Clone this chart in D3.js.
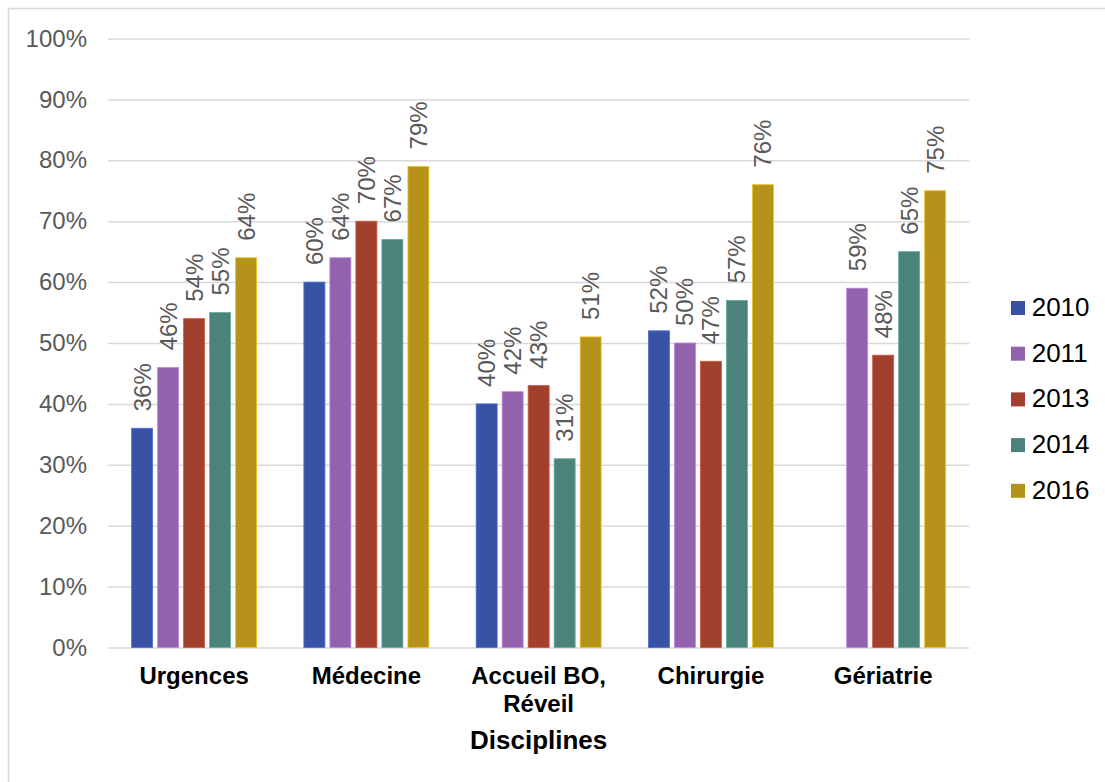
<!DOCTYPE html>
<html>
<head>
<meta charset="utf-8">
<script src="https://cdn.jsdelivr.net/npm/d3@7"></script>
<style>
  html, body { margin: 0; padding: 0; background: #ffffff; }
  svg { display: block; }
  text { font-family: "Liberation Sans", Arial, sans-serif; }
</style>
</head>
<body>
<svg id="chart" width="1105" height="782"></svg>
<script>
// ---- data ----
const categories = ["Urgences", "Médecine", "Accueil BO,\nRéveil", "Chirurgie", "Gériatrie"];
const years = ["2010", "2011", "2013", "2014", "2016"];
const v2010 = [0.36, 0.60, 0.40, 0.52, null];
const v2011 = [0.46, 0.64, 0.42, 0.50, 0.59];
const v2013 = [0.54, 0.70, 0.43, 0.47, 0.48];
const v2014 = [0.55, 0.67, 0.31, 0.57, 0.65];
const v2016 = [0.64, 0.79, 0.51, 0.76, 0.75];
const yTicks = [0, 0.1, 0.2, 0.3, 0.4, 0.5, 0.6, 0.7, 0.8, 0.9, 1.0];
const colors = ["#3953a4", "#9263ac", "#a0402d", "#4b8279", "#b5931a"];
const xTitle = "Disciplines";

const seriesValues = [v2010, v2011, v2013, v2014, v2016];
const series = years.map((y, i) => ({ year: y, color: colors[i], values: seriesValues[i] }));

// ---- layout ----
const svg = d3.select("#chart");
const plot = { left: 108, right: 969.3, top: 38.5, bottom: 647.5 };

// outer chart border (top and left edges visible)
svg.append("line").attr("x1", 8.5).attr("y1", 8.5).attr("x2", 1105).attr("y2", 8.5)
  .attr("stroke", "#d9d9d9").attr("stroke-width", 1.5);
svg.append("line").attr("x1", 8.5).attr("y1", 8.5).attr("x2", 8.5).attr("y2", 782)
  .attr("stroke", "#d9d9d9").attr("stroke-width", 1.5);

const x0 = d3.scaleBand().domain(categories).range([plot.left, plot.right]).padding(0);
const innerW = 125;
const x1 = d3.scaleBand().domain(years).range([0, innerW]).paddingInner(5 / 26).paddingOuter(0);
const y = d3.scaleLinear().domain([0, 1]).range([plot.bottom, plot.top]);

// y axis + gridlines
const yAxis = d3.axisLeft(y)
  .tickValues(yTicks)
  .tickFormat(d3.format(".0%"))
  .tickSize(-(plot.right - plot.left))
  .tickPadding(21);
const gy = svg.append("g").attr("transform", `translate(${plot.left},0)`).call(yAxis);
gy.select(".domain").remove();
gy.selectAll(".tick line").attr("stroke", "#d9d9d9").attr("stroke-width", 1.5);
gy.selectAll(".tick text")
  .attr("fill", "#595959")
  .attr("font-size", 24)
  .attr("font-family", "'Liberation Sans', Arial, sans-serif");

// bars
const groups = svg.append("g").selectAll("g.cat")
  .data(categories)
  .join("g")
  .attr("class", "cat")
  .attr("transform", c => `translate(${x0(c) + (x0.bandwidth() - innerW) / 2},0)`);

groups.each(function (c, ci) {
  const g = d3.select(this);
  const items = series
    .map(s => ({ year: s.year, color: s.color, v: s.values[ci] }))
    .filter(d => d.v !== null && d.v !== undefined);
  g.selectAll("rect")
    .data(items)
    .join("rect")
    .attr("x", d => x1(d.year))
    .attr("y", d => y(d.v))
    .attr("width", x1.bandwidth())
    .attr("height", d => y(0) - y(d.v))
    .attr("fill", d => d.color)
    .attr("stroke", d => d3.color(d.color).brighter(0.8).formatHex())
    .attr("stroke-width", 0.8);
  g.selectAll("text.lbl")
    .data(items)
    .join("text")
    .attr("class", "lbl")
    .attr("transform", d => `translate(${x1(d.year) + x1.bandwidth() / 2},${y(d.v) - 17}) rotate(-90)`)
    .attr("dy", "0.35em")
    .attr("text-anchor", "start")
    .attr("fill", "#595959")
    .attr("font-size", 24)
    .text(d => d3.format(".0%")(d.v));
});

// x axis category labels
const xAxis = d3.axisBottom(x0).tickSize(0).tickPadding(0).tickFormat("");
const gx = svg.append("g").attr("transform", `translate(0,${plot.bottom})`).call(xAxis);
gx.select(".domain").remove();
gx.selectAll(".tick").each(function (c) {
  const lines = c.split("\n");
  const t = d3.select(this).append("text")
    .attr("text-anchor", "middle")
    .attr("font-weight", "bold")
    .attr("font-size", 24)
    .attr("fill", "#000000");
  lines.forEach((ln, i) => {
    t.append("tspan").attr("x", 0).attr("y", 36.8 + i * 27.4).text(ln);
  });
});

// x axis title
svg.append("text")
  .attr("x", (plot.left + plot.right) / 2)
  .attr("y", 749)
  .attr("text-anchor", "middle")
  .attr("font-weight", "bold")
  .attr("font-size", 26)
  .attr("fill", "#000000")
  .text(xTitle);

// legend
const legend = svg.append("g").attr("transform", "translate(1011,301)");
const li = legend.selectAll("g").data(series).join("g")
  .attr("transform", (d, i) => `translate(0,${i * 45.7})`);
li.append("rect").attr("width", 14).attr("height", 14).attr("fill", d => d.color);
li.append("text")
  .attr("x", 20.7)
  .attr("y", 15)
  .attr("font-size", 26)
  .attr("fill", "#000000")
  .text(d => d.year);
</script>
</body>
</html>
